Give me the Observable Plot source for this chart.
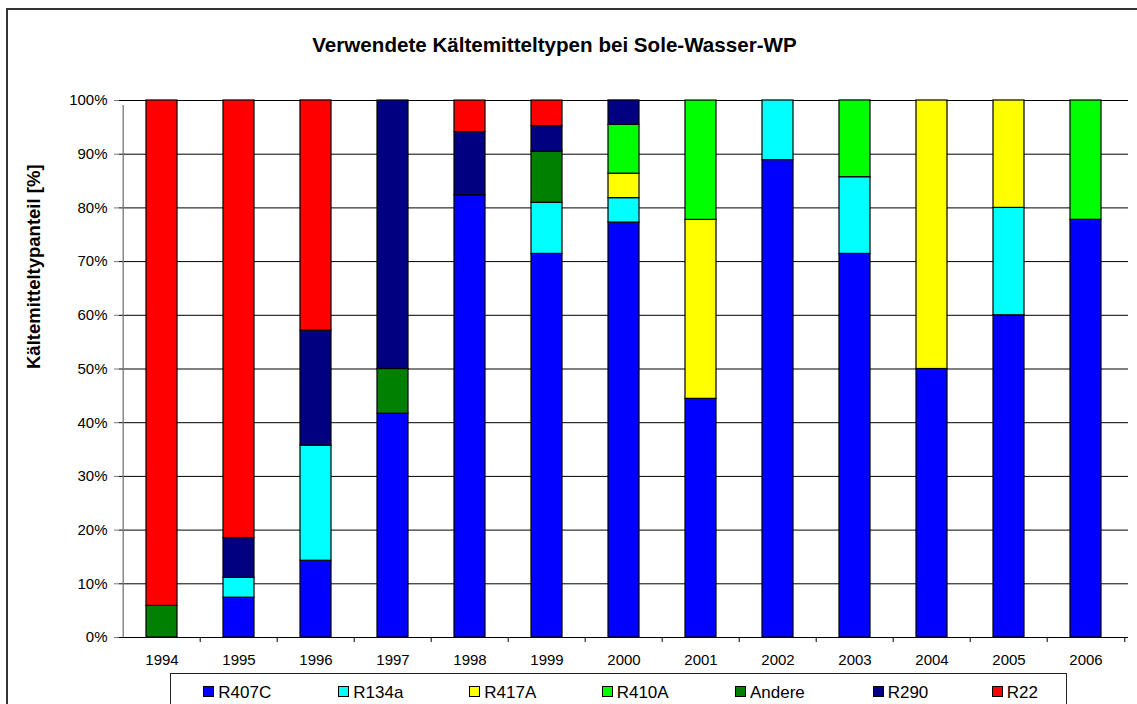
<!DOCTYPE html>
<html>
<head>
<meta charset="utf-8">
<script src="https://cdn.jsdelivr.net/npm/d3@7"></script>
<script src="https://cdn.jsdelivr.net/npm/@observablehq/plot@0.6"></script>
<style>
  html, body { margin: 0; padding: 0; background: #fff; overflow: hidden; }
  #wrap { position: relative; width: 1137px; height: 704px; overflow: hidden; font-family: "Liberation Sans", Arial, sans-serif; }
  #border { position: absolute; left: 6px; top: 8px; width: 1300px; height: 900px; border: 2px solid #333; box-sizing: border-box; }
  #title { position: absolute; left: 0; top: 34.5px; width: 1109px; text-align: center; font-size: 20.6px; line-height: 20.6px; font-weight: bold; color: #000; }
  #chart { position: absolute; left: 0; top: 0; }
  #legend { position: absolute; left: 170px; top: 673px; width: 897px; height: 60px; border: 1px solid #222; box-sizing: border-box; background: #fff; }
  .sw { position: absolute; top: 686px; width: 11px; height: 11px; border: 1px solid #000; box-sizing: border-box; }
  .lt { position: absolute; top: 683.6px; font-size: 17px; line-height: 17px; color: #000; white-space: nowrap; }
</style>
</head>
<body>
<div id="wrap">
  <div id="border"></div>
  <div id="chart"></div>
  <div id="title"></div>
  <div id="legend"></div>
</div>
<script>
// ---- data ----
const years = ["1994","1995","1996","1997","1998","1999","2000","2001","2002","2003","2004","2005","2006"];
const types = ["R407C","R134a","R417A","R410A","Andere","R290","R22"];
const colors = ["#0000FF","#00FFFF","#FFFF00","#00FF00","#008000","#000080","#FF0000"];
const R407C  = [0, 7.41, 14.29, 41.67, 82.35, 71.43, 77.27, 44.44, 88.89, 71.43, 50, 60, 77.78];
const R134a  = [0, 3.70, 21.43, 0, 0, 9.52, 4.55, 0, 11.11, 14.29, 0, 20, 0];
const R417A  = [0, 0, 0, 0, 0, 0, 4.55, 33.33, 0, 0, 50, 20, 0];
const R410A  = [0, 0, 0, 0, 0, 0, 9.09, 22.22, 0, 14.29, 0, 0, 22.22];
const Andere = [5.88, 0, 0, 8.33, 0, 9.52, 0, 0, 0, 0, 0, 0, 0];
const R290   = [0, 7.41, 21.43, 50, 11.76, 4.76, 4.55, 0, 0, 0, 0, 0, 0];
const R22    = [94.12, 81.48, 42.86, 0, 5.88, 4.76, 0, 0, 0, 0, 0, 0, 0];
const yTicks = [0,10,20,30,40,50,60,70,80,90,100];
const titleText = "Verwendete Kältemitteltypen bei Sole-Wasser-WP";
const yLabel = "Kältemitteltypanteil [%]";

// ---- build table ----
const seriesValues = [R407C, R134a, R417A, R410A, Andere, R290, R22];
const rows = [];
types.forEach((t, ti) => {
  years.forEach((y, yi) => {
    const v = seriesValues[ti][yi];
    if (v > 0) rows.push({year: y, type: t, value: v});
  });
});

// ---- layout ----
const W = 1137, H = 704;
const mL = 119, mR = 9, mT = 100, mB = 67;
const step = (W - mL - mR) / years.length;
const legendX = [203.3, 338.3, 469.3, 601.7, 735, 872.7, 991.7];

const plot = Plot.plot({
  width: W,
  height: H,
  marginLeft: mL,
  marginRight: mR,
  marginTop: mT,
  marginBottom: mB,
  style: {fontFamily: "'Liberation Sans', Arial, sans-serif", fontSize: "15px", background: "transparent", overflow: "visible"},
  x: {type: "band", domain: years, paddingInner: 0.6, paddingOuter: 0.3, label: null},
  y: {domain: [0, 100], label: null},
  color: {domain: types, range: colors},
  marks: [
    Plot.ruleY(yTicks.slice(1), {y: d => d, stroke: "#000", strokeWidth: 1}),
    Plot.barY(rows, Plot.stackY({x: "year", y: "value", fill: "type", order: types, stroke: "#000", strokeWidth: 1.2})),
    // y axis line (also first boundary tick)
    Plot.ruleX([years[0]], {x: d => d, dx: -step / 2, y1: 0, y2: 100, insetBottom: -5, stroke: "#777", strokeWidth: 1.3}),
    // x axis line
    Plot.ruleY([0], {stroke: "#000", strokeWidth: 1}),
    // category boundary ticks
    Plot.ruleX(years.slice(1), {x: d => d, dx: -step / 2, y1: 0, y2: 0, insetBottom: -5, stroke: "#000"}),
    Plot.ruleX([years[years.length - 1]], {x: d => d, dx: step / 2, y1: 0, y2: 0, insetBottom: -5, stroke: "#000"}),
    Plot.axisY({ticks: yTicks, tickFormat: d => d + "%", tickSize: 5, tickPadding: 7, stroke: "#777", fontSize: 15, label: null}),
    Plot.axisX({tickSize: 0, tickPadding: 17, fontSize: 15, label: null}),
    Plot.text([yLabel], {frameAnchor: "left", rotate: -90, dx: -85, fontSize: 18.5, fontWeight: "bold", lineAnchor: "middle"})
  ]
});
document.getElementById("chart").appendChild(plot);
document.getElementById("title").textContent = titleText;

// ---- legend ----
const wrap = document.getElementById("wrap");
types.forEach((t, i) => {
  const sw = document.createElement("div");
  sw.className = "sw";
  sw.style.left = legendX[i] + "px";
  sw.style.background = colors[i];
  wrap.appendChild(sw);
  const lt = document.createElement("div");
  lt.className = "lt";
  lt.style.left = (legendX[i] + 15) + "px";
  lt.textContent = t;
  wrap.appendChild(lt);
});
</script>
</body>
</html>
